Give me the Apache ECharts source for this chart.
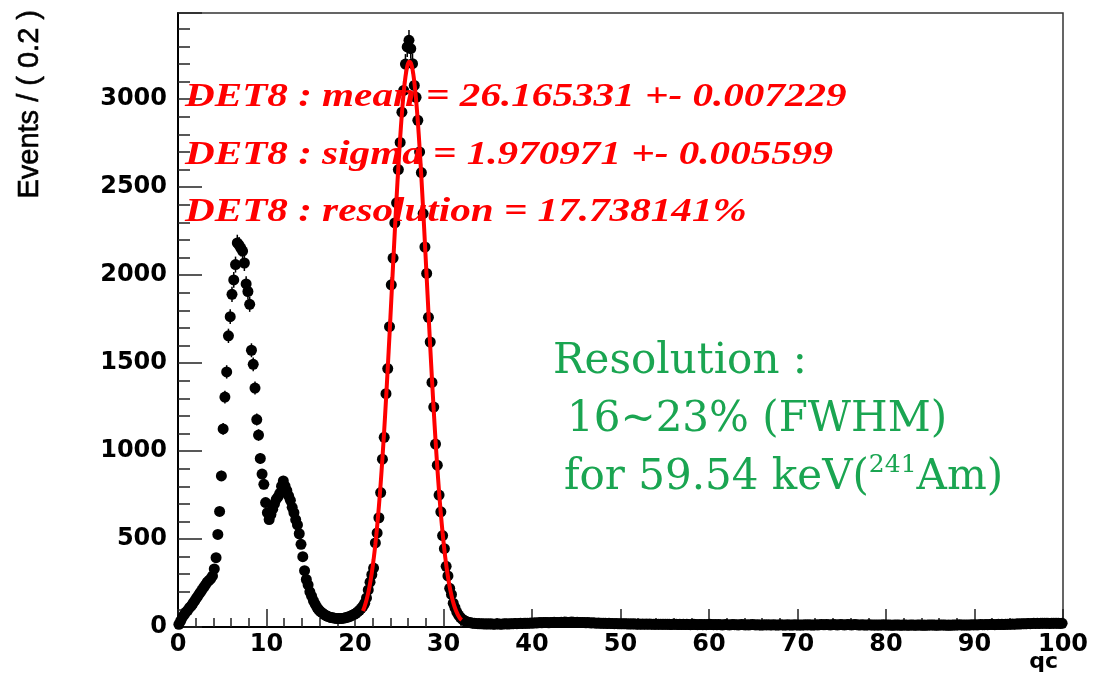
<!DOCTYPE html>
<html>
<head>
<meta charset="utf-8">
<script src="https://cdn.jsdelivr.net/npm/echarts@6/dist/echarts.min.js"></script>
<style>
html,body{margin:0;padding:0;background:#fff;}
#chart{width:1101px;height:691px;}
</style>
</head>
<body>
<div id="chart"></div>
<script>
// Histogram: Events per 0.2 bin of qc (500 bins, centres 0.1 ... 99.9)
const binWidth = 0.2;
const counts = [
  15,35,55,70,85,95,110,120,135,150,
  165,180,195,210,225,240,255,265,275,290,
  330,394,526,657,859,1126,1307,1450,1655,1764,
  1891,1973,2060,2183,2170,2154,2137,2069,1950,1907,
  1834,1573,1493,1358,1179,1091,958,869,811,707,
  650,611,640,670,700,726,740,760,800,830,
  800,775,745,720,680,650,610,580,530,470,
  400,320,270,240,200,175,150,130,112,98,
  88,80,72,66,61,57,54,52,50,49,
  48,48,49,50,52,55,58,62,67,72,
  78,86,95,106,118,135,165,211,255,297,
  335,478,535,621,764,954,1078,1326,1469,1707,
  1945,2097,2297,2411,2600,2754,2926,3050,3200,3297,
  3335,3287,3202,3078,3011,2880,2700,2583,2350,2160,
  2010,1760,1620,1390,1250,1040,920,750,655,520,
  445,345,290,220,185,135,110,85,68,55,
  45,38,33,29,26,
  24,22,21,20,19,19,18,18,17,18,
  17,18,17,16,17,18,17,16,17,18,
  18,17,19,18,19,20,19,20,21,20,
  21,22,21,22,23,22,24,23,24,25,
  24,25,26,25,24,26,25,27,26,25,
  26,27,26,28,27,26,27,28,27,26,
  27,26,25,26,25,24,25,24,23,24,
  23,22,23,22,21,22,21,20,21,20,
  20,19,20,19,18,19,18,19,18,17,
  18,17,18,17,16,17,16,17,16,17,
  16,17,16,15,16,15,16,15,16,15,
  15,16,15,14,15,16,15,14,15,14,
  15,14,15,14,13,14,15,14,13,14,
  14,13,14,13,14,15,14,13,14,13,
  14,13,12,13,14,13,12,13,14,13,
  13,12,13,14,13,12,13,12,13,14,
  13,12,13,12,11,12,13,12,13,12,
  12,13,12,11,12,13,12,11,12,13,
  12,11,12,13,12,11,12,11,12,13,
  12,13,12,11,12,13,12,13,14,13,
  13,14,13,12,13,14,13,12,13,14,
  13,12,13,14,13,12,13,14,13,12,
  12,13,12,11,12,13,12,11,12,11,
  12,11,12,13,12,11,12,11,10,11,
  11,12,11,10,11,12,11,10,11,12,
  11,10,11,12,11,10,11,10,11,12,
  11,12,11,10,11,12,11,12,11,10,
  11,10,11,12,11,12,13,12,11,12,
  12,11,12,13,12,13,12,13,14,13,
  13,14,13,14,15,14,13,14,15,14,
  15,14,15,16,15,16,17,16,17,18,
  17,18,19,18,19,20,19,20,21,20,
  21,20,21,22,21,22,21,20,21,22,
  21,22,21,20,21
];
// Red Gaussian fit curve
const fitX = [20.9,21.1,21.3,21.5,21.7,21.9,22.1,22.3,22.5,22.7,22.9,23.1,23.3,23.5,23.7,23.9,
  24.1,24.3,24.5,24.7,24.9,25.1,25.3,25.5,25.7,25.9,26.1,26.3,26.5,26.7,26.9,27.1,27.3,27.5,27.7,27.9,
  28.1,28.3,28.5,28.7,28.9,29.1,29.3,29.5,29.7,29.9,30.1,30.3,30.5,30.7,30.9,31.1,31.3,31.5,31.7,31.9,32.05];
const fitY = [91,119,153,195,247,309,383,470,571,686,815,960,1118,1289,1471,1661,
  1857,2055,2250,2440,2617,2778,2920,3037,3127,3186,3213,3207,3169,3099,2999,2873,2724,2556,2374,2182,
  1986,1788,1594,1406,1228,1061,907,768,643,534,438,356,286,228,180,140,108,83,62,47,40];

const xTickLabels = ['0','10','20','30','40','50','60','70','80','90','100'];
const fitLines = [
  'DET8 : mean = 26.165331 +- 0.007229',
  'DET8 : sigma = 1.970971 +- 0.005599',
  'DET8 : resolution = 17.738141%'
];
const yTitle = 'Events / ( 0.2 )';
const xTitle = 'qc';

const points = counts.map((v, i) => [+(binWidth * (i + 0.5)).toFixed(2), v]);
const errPoints = counts.map((v, i) => [+(binWidth * (i + 0.5)).toFixed(2), v, Math.sqrt(v)]);
const fitData = fitX.map((x, i) => [x, fitY[i]]);

const chart = echarts.init(document.getElementById('chart'), null, {renderer: 'canvas'});
const labelFont = {fontFamily: 'DejaVu Sans', fontWeight: 'bold', fontSize: 24, color: '#000'};
const tickStyle = {color: '#222', width: 1.5};
const green = '#1aa551';

chart.setOption({
  animation: false,
  backgroundColor: '#fff',
  grid: {left: 178, right: 38, top: 13, bottom: 64, show: true, borderColor: '#333', borderWidth: 1.5, backgroundColor: 'transparent'},
  xAxis: {
    type: 'value', min: 0, max: 100, interval: 10,
    axisLine: {show: true, onZero: false, lineStyle: {color: '#000', width: 2}},
    axisTick: {show: true, inside: true, length: 18, lineStyle: tickStyle},
    minorTick: {show: true, splitNumber: 5, length: 9, lineStyle: tickStyle},
    splitLine: {show: false},
    axisLabel: Object.assign({margin: 6, formatter: v => xTickLabels[Math.round(v / 10)] ?? ''}, labelFont)
  },
  yAxis: {
    type: 'value', min: 0, max: 3490, interval: 500,
    axisLine: {show: true, onZero: false, lineStyle: {color: '#000', width: 2}},
    axisTick: {show: true, inside: true, length: 24, lineStyle: tickStyle},
    minorTick: {show: true, splitNumber: 5, length: 12, lineStyle: tickStyle},
    splitLine: {show: false},
    axisLabel: Object.assign({margin: 11, showMaxLabel: false, formatter: v => String(v)}, labelFont)
  },
  series: [
    {
      type: 'custom', z: 2, silent: true,
      renderItem: (params, api) => {
        const x = api.value(0), y = api.value(1), e = api.value(2);
        const p1 = api.coord([x, y - e]), p2 = api.coord([x, y + e]);
        return {type: 'line', shape: {x1: p1[0], y1: p1[1], x2: p2[0], y2: p2[1]}, style: {stroke: '#000', lineWidth: 1.5}};
      },
      data: errPoints
    },
    {
      type: 'scatter', z: 3, symbol: 'circle', symbolSize: 11,
      itemStyle: {color: '#000', opacity: 1},
      data: points
    },
    {
      type: 'line', z: 4, smooth: 0.3, showSymbol: false, symbol: 'none',
      lineStyle: {color: '#ff0000', width: 4},
      data: fitData
    }
  ],
  graphic: [
    {type: 'text', x: 30, y: 10, rotation: Math.PI / 2,
     style: {text: yTitle, font: '29px "Liberation Sans"', fill: '#000', stroke: '#000', lineWidth: 0.6, align: 'right', verticalAlign: 'middle'}},
    {type: 'text', x: 1058, y: 662,
     style: {text: xTitle, font: 'bold 22px "DejaVu Sans"', fill: '#000', align: 'right', verticalAlign: 'middle'}},
    {type: 'text', x: 185, y: 97, scaleX: 1.21, z: 10,
     style: {text: fitLines[0], font: 'italic bold 34px "Liberation Serif"', fill: '#ff0000', verticalAlign: 'middle'}},
    {type: 'text', x: 185, y: 155, scaleX: 1.21, z: 10,
     style: {text: fitLines[1], font: 'italic bold 34px "Liberation Serif"', fill: '#ff0000', verticalAlign: 'middle'}},
    {type: 'text', x: 185, y: 212, scaleX: 1.21, z: 10,
     style: {text: fitLines[2], font: 'italic bold 34px "Liberation Serif"', fill: '#ff0000', verticalAlign: 'middle'}},
    {type: 'text', x: 553, y: 362, z: 10,
     style: {text: 'Resolution :', font: '42px "DejaVu Serif"', fill: green, verticalAlign: 'middle'}},
    {type: 'text', x: 567, y: 420, z: 10,
     style: {text: '16~23% (FWHM)', font: '42px "DejaVu Serif"', fill: green, verticalAlign: 'middle'}},
    {type: 'text', x: 564, y: 478, z: 10,
     style: {
       text: '{a|for 59.54 keV(}{s|241}{a|Am)}', fill: green, verticalAlign: 'middle',
       rich: {
         a: {font: '42px "DejaVu Serif"', fill: green, lineHeight: 50},
         s: {font: '25px "DejaVu Serif"', fill: green, lineHeight: 25, verticalAlign: 'top'}
       }
     }}
  ]
});
</script>
</body>
</html>
